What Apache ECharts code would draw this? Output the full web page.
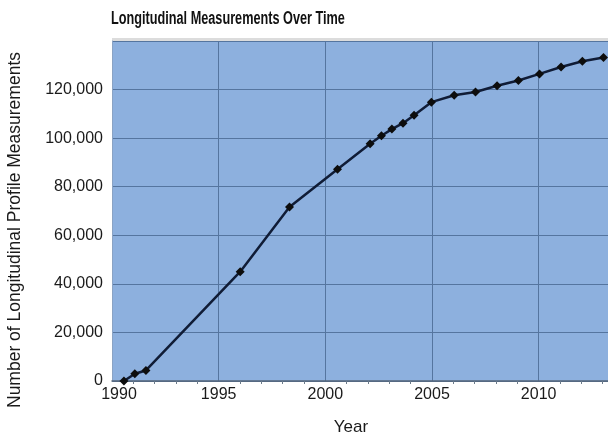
<!DOCTYPE html>
<html>
<head>
<meta charset="utf-8">
<style>
  html, body { margin: 0; padding: 0; background: #ffffff; }
  #chart { width: 608px; height: 441px; }
</style>
<script src="https://cdn.jsdelivr.net/npm/echarts@6/dist/echarts.min.js"></script>
</head>
<body>
<div id="chart"></div>
<script>
// ---- data ----
const titleText = 'Longitudinal Measurements Over Time';
const xAxisTitle = 'Year';
const yAxisTitle = 'Number of Longitudinal Profile Measurements';
const years = [1990.56, 1991.07, 1991.59, 1996.01, 1998.32, 2000.57, 2002.10, 2002.63, 2003.12, 2003.64, 2004.16, 2004.97, 2006.04, 2007.04, 2008.05, 2009.05, 2010.04, 2011.05, 2012.05, 2013.04];
const measurements = [0, 2960, 4340, 45030, 71680, 87220, 97650, 101010, 103730, 106170, 109410, 114810, 117650, 119000, 121580, 123730, 126450, 129290, 131640, 133190];
const xTicks = [1990, 1995, 2000, 2005, 2010];
const yTicks = [0, 20000, 40000, 60000, 80000, 100000, 120000];

const points = years.map((y, i) => [y, measurements[i]]);
const gridColor = '#55759f';
const labelFont = '"Liberation Sans", Arial, sans-serif';

const chart = echarts.init(document.getElementById('chart'), null, { renderer: 'canvas' });
chart.setOption({
  animation: false,
  backgroundColor: '#ffffff',
  grid: {
    left: 112,
    right: 0,
    top: 41,
    bottom: 56,
    show: true,
    backgroundColor: '#8db0de',
    borderWidth: 0
  },
  graphic: [
    {
      type: 'rect',
      shape: { x: 112, y: 38, width: 496, height: 3 },
      style: { fill: '#dcdcdc' },
      silent: true
    },
    {
      type: 'text',
      x: 111,
      y: 10,
      scaleX: 0.705,
      style: {
        text: titleText,
        font: 'bold 18px "Liberation Sans", Arial, sans-serif',
        fill: '#111111',
        align: 'left',
        verticalAlign: 'top'
      }
    },
    {
      type: 'text',
      x: 15,
      y: 230,
      rotation: Math.PI / 2,
      style: {
        text: yAxisTitle,
        font: '17.5px "Liberation Sans", Arial, sans-serif',
        fill: '#1a1a1a',
        align: 'center',
        verticalAlign: 'middle'
      }
    }
  ],
  xAxis: {
    type: 'value',
    min: 1990,
    max: 2013.25,
    interval: 5,
    name: xAxisTitle,
    nameLocation: 'middle',
    nameGap: 38,
    nameTextStyle: {
      fontFamily: labelFont,
      fontSize: 17,
      color: '#1a1a1a',
      padding: [0, 18, 0, 0]
    },
    axisLine: { show: true, lineStyle: { color: '#55667a', width: 1.5 } },
    axisTick: { show: false },
    minorTick: { show: true, splitNumber: 5, length: 3, lineStyle: { color: '#6a7a8a' } },
    splitLine: { show: true, lineStyle: { color: gridColor, width: 1 } },
    axisLabel: {
      showMaxLabel: false,
      margin: 6,
      fontFamily: labelFont,
      fontSize: 16,
      color: '#1a1a1a',
      formatter: function (v) {
        if (v === xTicks[0]) return '{first|' + v + '}';
        return xTicks.indexOf(v) >= 0 ? String(v) : '';
      },
      rich: {
        first: { fontFamily: labelFont, fontSize: 16, color: '#1a1a1a', padding: [0, 0, 0, 14] }
      }
    }
  },
  yAxis: {
    type: 'value',
    min: 0,
    max: 140000,
    interval: 20000,
    axisLine: { show: true, lineStyle: { color: '#8aa3c4', width: 1 } },
    axisTick: { show: false },
    splitLine: { show: true, lineStyle: { color: gridColor, width: 1 } },
    axisLabel: {
      showMaxLabel: false,
      margin: 9,
      fontFamily: labelFont,
      fontSize: 16,
      color: '#1a1a1a',
      formatter: function (v) { return yTicks.indexOf(v) >= 0 ? v.toLocaleString('en-US') : ''; }
    }
  },
  series: [{
    type: 'line',
    data: points,
    symbol: 'diamond',
    symbolSize: 9,
    showAllSymbol: true,
    clip: false,
    lineStyle: { color: '#101c36', width: 2.5 },
    itemStyle: { color: '#0d0d0d' }
  }]
});
</script>
</body>
</html>
